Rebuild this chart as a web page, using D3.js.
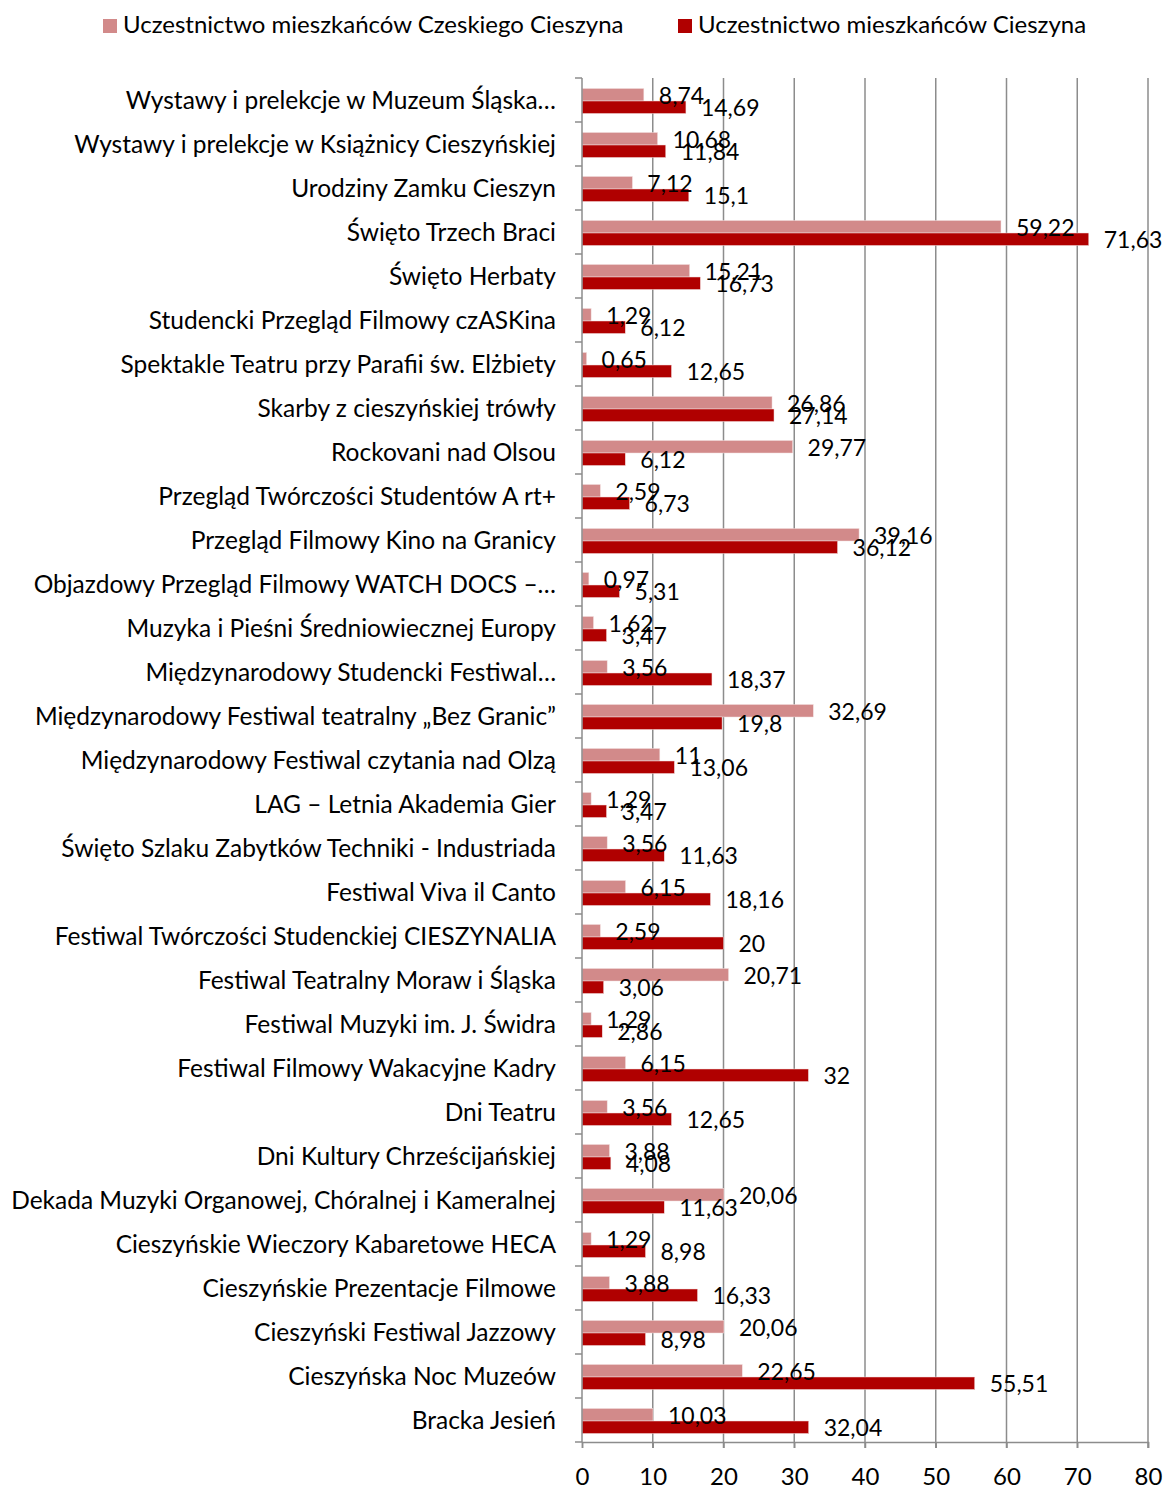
<!DOCTYPE html>
<html>
<head>
<meta charset="utf-8">
<script src="https://cdn.jsdelivr.net/npm/d3@7"></script>
<style>
  body { margin: 0; background: #fff; }
  svg text { font-family: Lato, "Open Sans", sans-serif; fill: #000; }
</style>
</head>
<body>
<div id="chart"></div>
<script>
// Kategorie (od góry do dołu)
const categories = [
  "Wystawy i prelekcje w Muzeum Śląska…",
  "Wystawy i prelekcje w Książnicy Cieszyńskiej",
  "Urodziny Zamku Cieszyn",
  "Święto Trzech Braci",
  "Święto Herbaty",
  "Studencki Przegląd Filmowy czASKina",
  "Spektakle Teatru przy Parafii św. Elżbiety",
  "Skarby z cieszyńskiej trówły",
  "Rockovani nad Olsou",
  "Przegląd Twórczości Studentów A rt+",
  "Przegląd Filmowy Kino na Granicy",
  "Objazdowy Przegląd Filmowy WATCH DOCS –…",
  "Muzyka i Pieśni Średniowiecznej Europy",
  "Międzynarodowy Studencki Festiwal…",
  "Międzynarodowy Festiwal teatralny „Bez Granic”",
  "Międzynarodowy Festiwal czytania nad Olzą",
  "LAG – Letnia Akademia Gier",
  "Święto Szlaku Zabytków Techniki  - Industriada",
  "Festiwal Viva il Canto",
  "Festiwal Twórczości Studenckiej CIESZYNALIA",
  "Festiwal Teatralny Moraw i Śląska",
  "Festiwal Muzyki im. J. Świdra",
  "Festiwal Filmowy Wakacyjne Kadry",
  "Dni Teatru",
  "Dni Kultury Chrześcijańskiej",
  "Dekada Muzyki Organowej, Chóralnej i Kameralnej",
  "Cieszyńskie Wieczory Kabaretowe HECA",
  "Cieszyńskie Prezentacje Filmowe",
  "Cieszyński Festiwal Jazzowy",
  "Cieszyńska Noc Muzeów",
  "Bracka Jesień"
];

// Uczestnictwo mieszkańców Czeskiego Cieszyna (%)
const czeskiCieszyn = [
  8.74, 10.68, 7.12, 59.22, 15.21, 1.29, 0.65, 26.86, 29.77, 2.59,
  39.16, 0.97, 1.62, 3.56, 32.69, 11, 1.29, 3.56, 6.15, 2.59,
  20.71, 1.29, 6.15, 3.56, 3.88, 20.06, 1.29, 3.88, 20.06, 22.65, 10.03
];

// Uczestnictwo mieszkańców Cieszyna (%)
const cieszyn = [
  14.69, 11.84, 15.1, 71.63, 16.73, 6.12, 12.65, 27.14, 6.12, 6.73,
  36.12, 5.31, 3.47, 18.37, 19.8, 13.06, 3.47, 11.63, 18.16, 20,
  3.06, 2.86, 32, 12.65, 4.08, 11.63, 8.98, 16.33, 8.98, 55.51, 32.04
];

const seriesNames = ["Uczestnictwo mieszkańców Czeskiego Cieszyna", "Uczestnictwo mieszkańców Cieszyna"];
const xTicks = [0, 10, 20, 30, 40, 50, 60, 70, 80];

const colors = ["#D28A8A", "#B00000"];
const series = [czeskiCieszyn, cieszyn];

// Wymiary
const width = 1167, height = 1490;
const margin = { top: 78, right: 19, bottom: 48, left: 582 };

const svg = d3.select("#chart")
  .append("svg")
  .attr("width", width)
  .attr("height", height);

const x = d3.scaleLinear()
  .domain([0, 80])
  .range([margin.left, width - margin.right]);

const y = d3.scaleBand()
  .domain(categories)
  .range([margin.top, height - margin.bottom]);

const barH = 12.5;

// Linie siatki
svg.append("g")
  .selectAll("line")
  .data(xTicks.slice(1))
  .enter()
  .append("line")
  .attr("x1", d => x(d)).attr("x2", d => x(d))
  .attr("y1", margin.top).attr("y2", height - margin.bottom + 6)
  .style("stroke", "#8c8c8c")
  .style("stroke-width", 1.5);

// Słupki
series.forEach((vals, s) => {
  svg.append("g")
    .selectAll("rect")
    .data(vals)
    .enter()
    .append("rect")
    .attr("x", x(0))
    .attr("y", (d, i) => y(categories[i]) + y.bandwidth() / 2 - barH + s * barH + 1)
    .attr("width", d => x(d) - x(0))
    .attr("height", barH)
    .attr("fill", colors[s])
    .style("stroke", "#f2dede")
    .style("stroke-width", 0.5);
});

// Etykiety danych
series.forEach((vals, s) => {
  svg.append("g")
    .selectAll("text")
    .data(vals)
    .enter()
    .append("text")
    .attr("x", d => x(d) + 15)
    .attr("y", (d, i) => y(categories[i]) + y.bandwidth() / 2 - barH / 2 + s * barH + 4)
    .attr("dominant-baseline", "middle")
    .style("font-size", "23px")
    .text(d => String(d).replace(".", ","));
});

// Oś Y
svg.append("line")
  .attr("x1", x(0)).attr("x2", x(0))
  .attr("y1", margin.top).attr("y2", height - margin.bottom)
  .style("stroke", "#8c8c8c").style("stroke-width", 1.5);

svg.append("g")
  .selectAll("line")
  .data(d3.range(categories.length + 1))
  .enter()
  .append("line")
  .attr("x1", x(0) - 7).attr("x2", x(0))
  .attr("y1", i => margin.top + i * y.step())
  .attr("y2", i => margin.top + i * y.step())
  .style("stroke", "#8c8c8c").style("stroke-width", 1.5);

svg.append("g")
  .selectAll("text")
  .data(categories)
  .enter()
  .append("text")
  .attr("x", x(0) - 26)
  .attr("y", d => y(d) + y.bandwidth() / 2 + 3)
  .attr("text-anchor", "end")
  .attr("dominant-baseline", "middle")
  .style("font-size", "24.5px")
  .text(d => d);

// Oś X
const xAxis = svg.append("g")
  .attr("transform", `translate(0,${height - margin.bottom})`)
  .call(d3.axisBottom(x).tickValues(xTicks).tickSize(6).tickPadding(20));

xAxis.selectAll("line, path").style("stroke", "#8c8c8c").style("stroke-width", 1.5);
xAxis.selectAll("text")
  .style("font-size", "24px")
  .style("font-family", "Lato, 'Open Sans', sans-serif")
  .attr("fill", "#000");

// Legenda
const legendX = [103, 678];
seriesNames.forEach((name, s) => {
  const g = svg.append("g").attr("transform", `translate(${legendX[s]},19)`);
  g.append("rect").attr("width", 14).attr("height", 14).attr("fill", colors[s]);
  g.append("text")
    .attr("x", 20).attr("y", 8)
    .attr("dominant-baseline", "middle")
    .style("font-size", "24px")
    .text(name);
});
</script>
</body>
</html>
